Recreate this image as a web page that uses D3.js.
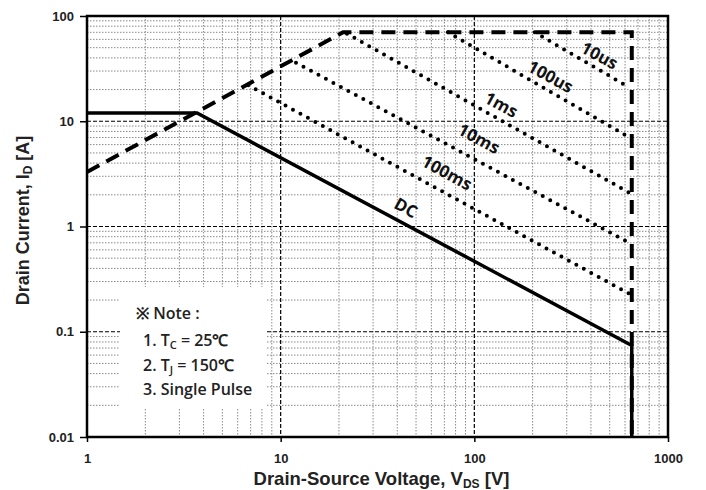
<!DOCTYPE html>
<html><head><meta charset="utf-8">
<script src="https://cdn.jsdelivr.net/npm/d3@7"></script>
<style>
body{margin:0;background:#fff;}
svg{display:block;}
</style></head>
<body>
<svg id="c" width="706" height="490"></svg>
<script>
// ---- data ----
const xTicks = [1, 10, 100, 1000];
const yTicks = [0.01, 0.1, 1, 10, 100];
const xTickLabels = ["1", "10", "100", "1000"];
const yTickLabels = ["0.01", "0.1", "1", "10", "100"];
// DC limit (solid)
const dcLine = [[1, 12], [3.7, 12], [650, 0.074], [650, 0.01]];
// RDS(on) / current / voltage limit (dashed)
const limitLine = [[1, 3.3], [21, 70], [650, 70], [650, 0.01]];
// pulse limits (dotted)
const pulseNames = ["10us", "100us", "1ms", "10ms", "100ms"];
const pulseStart = [[205, 70], [73, 70], [22, 68], [12, 36], [6.8, 22]];
const pulseEnd = [[630, 21], [630, 7.05], [630, 2.1], [630, 0.7], [630, 0.23]];
const labelNames = ["10us", "100us", "1ms", "10ms", "100ms", "DC"];
const labelPos = [[444, 42.5], [248, 26.8], [138, 14.5], [106, 6.9], [72.4, 3.27], [44.4, 1.52]];
const noteLines = ["※ Note :", "1. T|C| = 25℃", "2. T|J| = 150℃", "3. Single Pulse"];

// ---- scales ----
const svg = d3.select("#c");
const x = d3.scaleLog().domain([1, 1000]).range([87, 668]);
const y = d3.scaleLog().domain([0.01, 100]).range([437, 16]);
const X0 = x.range()[0], X1 = x.range()[1], Y0 = y.range()[1], Y1 = y.range()[0];

// minor grid
const minorX = [], minorY = [];
for (let d = 1; d < 1000; d *= 10) for (let k = 2; k <= 9; k++) minorX.push(d * k);
for (let d = 0.01; d < 99; d *= 10) for (let k = 2; k <= 9; k++) minorY.push(+(d * k).toPrecision(3));

const g = svg.append("g");
g.selectAll(".mx").data(minorX).join("line")
  .attr("x1", d => x(d)).attr("x2", d => x(d)).attr("y1", Y0).attr("y2", Y1)
  .attr("stroke", "#8a8a8a").attr("stroke-width", 1).attr("stroke-dasharray", "1.5,1.5");
g.selectAll(".my").data(minorY).join("line")
  .attr("y1", d => y(d)).attr("y2", d => y(d)).attr("x1", X0).attr("x2", X1)
  .attr("stroke", "#8a8a8a").attr("stroke-width", 1).attr("stroke-dasharray", "1.5,1.5");
// major grid
g.selectAll(".Mx").data(xTicks.slice(1, -1)).join("line")
  .attr("x1", d => x(d)).attr("x2", d => x(d)).attr("y1", Y0).attr("y2", Y1)
  .attr("stroke", "#000").attr("stroke-width", 1.2).attr("stroke-dasharray", "4,2");
g.selectAll(".My").data(yTicks.slice(1, -1)).join("line")
  .attr("y1", d => y(d)).attr("y2", d => y(d)).attr("x1", X0).attr("x2", X1)
  .attr("stroke", "#000").attr("stroke-width", 1.2).attr("stroke-dasharray", "4,2");

// note box background
svg.append("rect").attr("x", 120).attr("y", 287).attr("width", 146).attr("height", 121).attr("fill", "#fff");

const line = d3.line().x(d => x(d[0])).y(d => y(d[1]));

// pulse lines
pulseNames.forEach((n, i) => {
  svg.append("path").attr("d", line([pulseStart[i], pulseEnd[i]]))
    .attr("fill", "none").attr("stroke", "#000").attr("stroke-width", 4)
    .attr("stroke-linecap", "round").attr("stroke-dasharray", "0,8.5");
});
// limit dashed
svg.append("path").attr("d", line(limitLine)).attr("fill", "none").attr("stroke", "#000")
  .attr("stroke-width", 4).attr("stroke-dasharray", "14,8");
// DC
svg.append("path").attr("d", line(dcLine)).attr("fill", "none").attr("stroke", "#000")
  .attr("stroke-width", 3.5);

// frame
svg.append("rect").attr("x", X0).attr("y", Y0).attr("width", X1 - X0).attr("height", Y1 - Y0)
  .attr("fill", "none").attr("stroke", "#000").attr("stroke-width", 2.5);

// axes
const fontT = "Arial, 'Liberation Sans', sans-serif";
const xa = svg.append("g").attr("transform", `translate(0,${Y1})`)
  .call(d3.axisBottom(x).tickValues(xTicks).tickFormat((d, i) => xTickLabels[i]).tickSize(5).tickPadding(18));
const ya = svg.append("g").attr("transform", `translate(${X0},0)`)
  .call(d3.axisLeft(y).tickValues(yTicks).tickFormat((d, i) => yTickLabels[i]).tickSize(7).tickPadding(6));
[xa, ya].forEach(a => {
  a.select(".domain").remove();
  a.selectAll("line").attr("stroke", "#000").attr("stroke-width", 1.5);
  a.selectAll("text").attr("font-family", fontT).attr("font-weight", "bold").attr("font-size", 13).attr("fill", "#222");
});
xa.selectAll("text").attr("dy", "0.2em");

// line labels
const ang = -Math.atan((y(1) - y(10)) / (x(10) - x(1))) * 180 / Math.PI;
labelNames.forEach((n, i) => {
  const px = x(labelPos[i][0]), py = y(labelPos[i][1]);
  svg.append("text").attr("x", px).attr("y", py)
    .attr("transform", `rotate(${-ang},${px},${py})`)
    .attr("text-anchor", "middle").attr("dominant-baseline", "central")
    .attr("font-family", "'Open Sans', sans-serif").attr("font-weight", "bold").attr("font-size", 17)
    .attr("fill", "#111").text(n);
});

// note text
const fontN = "'Open Sans', sans-serif";
noteLines.forEach((t, i) => {
  const tx = svg.append("text").attr("x", i === 0 ? 136 : 143).attr("y", [319, 346, 371, 395][i])
    .attr("font-family", fontN).attr("font-weight", "600").attr("font-size", 16).attr("fill", "#222");
  const parts = t.split("|");
  tx.append("tspan").text(parts[0]);
  if (parts.length > 1) {
    tx.append("tspan").attr("font-size", 11).attr("dy", 3).text(parts[1]);
    tx.append("tspan").attr("dy", -3).text(parts[2]);
  }
});

// axis titles
const xt = svg.append("text").attr("x", (X0 + X1) / 2 + 4).attr("y", 485).attr("text-anchor", "middle")
  .attr("font-family", fontT).attr("font-weight", "bold").attr("font-size", 18.5).attr("fill", "#222");
xt.append("tspan").text("Drain-Source Voltage, V");
xt.append("tspan").attr("font-size", 12).attr("dy", 3).text("DS");
xt.append("tspan").attr("dy", -3).text(" [V]");
const yt = svg.append("text").attr("transform", `translate(29,${(Y0 + Y1) / 2 - 6}) rotate(-90)`).attr("text-anchor", "middle")
  .attr("font-family", fontT).attr("font-weight", "bold").attr("font-size", 18).attr("fill", "#222");
yt.append("tspan").text("Drain Current, I");
yt.append("tspan").attr("font-size", 12).attr("dy", 3).text("D");
yt.append("tspan").attr("dy", -3).text(" [A]");
</script>
</body></html>
